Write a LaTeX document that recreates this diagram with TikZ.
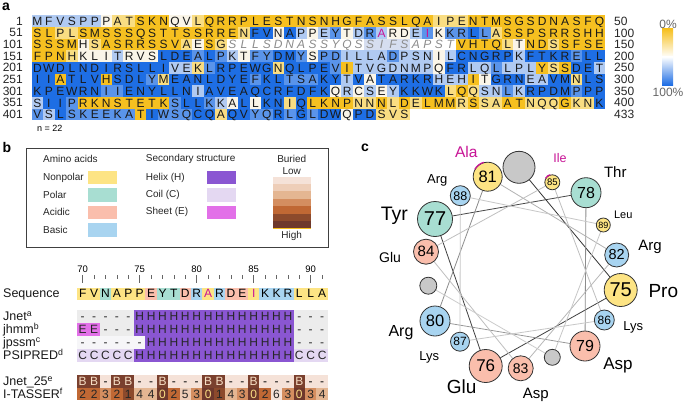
\documentclass[tikz,border=0pt]{standalone}
\usepackage{fontspec}
\setmainfont{Liberation Sans}
\usetikzlibrary{backgrounds}

% heat map levels (0 = yellow ... 5 = blue)
\definecolor{hm0}{RGB}{246,192,32}
\definecolor{hm1}{RGB}{249,221,130}
\definecolor{hm2}{RGB}{250,245,232}
\definecolor{hm3}{RGB}{176,202,242}
\definecolor{hm4}{RGB}{90,148,234}
\definecolor{hm5}{RGB}{30,110,228}
\definecolor{hm6}{RGB}{255,255,255}
\definecolor{hm7}{RGB}{214,222,240}
\colorlet{hm8}{hm3}
\colorlet{hm9}{hm4}
\definecolor{mag}{RGB}{200,20,150}
% amino acid classes
\definecolor{aanon}{RGB}{253,228,132}
\definecolor{aapol}{RGB}{168,222,210}
\definecolor{aaaci}{RGB}{250,190,172}
\definecolor{aabas}{RGB}{168,212,240}
% secondary structure
\definecolor{sshel}{RGB}{138,86,210}
\definecolor{sscoi}{RGB}{228,216,242}
\definecolor{ssshe}{RGB}{226,112,232}
\definecolor{ssbg}{RGB}{236,236,236}
\definecolor{sslt}{RGB}{246,246,248}
% burial
\definecolor{bur0}{RGB}{110,56,44}
\definecolor{bur1}{RGB}{140,74,44}
\definecolor{bur2}{RGB}{192,104,52}
\definecolor{bur3}{RGB}{212,142,96}
\definecolor{bur4}{RGB}{228,182,146}
\definecolor{bur5}{RGB}{238,206,184}
\definecolor{bur6}{RGB}{245,226,216}
\definecolor{burB}{RGB}{122,64,46}
\definecolor{burBt}{RGB}{246,222,196}
\definecolor{burt0}{RGB}{250,220,130}
\colorlet{burt1}{black!85}
\colorlet{burt2}{black!85}
\colorlet{burt3}{black!85}
\colorlet{burt4}{black!85}
\colorlet{burt5}{black!85}
\colorlet{burt6}{black!85}
\definecolor{whgray}{RGB}{200,200,200}

\tikzset{
  hmlet/.style={inner sep=0pt, font=\fontsize{12}{12}\selectfont, text=black!90,
    text height=8.6pt, text depth=0pt},
  numlab/.style={inner sep=0pt, font=\fontsize{12}{12}\selectfont, text=black!85},
  panel/.style={inner sep=0pt, font=\fontsize{14}{14}\selectfont\bfseries},
  legtxt/.style={inner sep=0pt, anchor=west, font=\fontsize{10}{10}\selectfont, text=black!85},
  swatch/.style={minimum width=29pt, minimum height=13.6pt, inner sep=0pt},
  seqcell/.style={minimum width=11.6pt, minimum height=12pt, inner sep=0pt,
    font=\fontsize{12}{12}\selectfont, text height=8.6pt, text depth=0pt},
  sscell/.style={minimum width=11.6pt, minimum height=13pt, inner sep=0pt,
    font=\fontsize{12}{12}\selectfont, text height=8.6pt, text depth=0pt, text=black!85},
  burcell/.style={minimum width=11.6pt, minimum height=12.5pt, inner sep=0pt,
    font=\fontsize{12}{12}\selectfont, text height=8.6pt, text depth=0pt},
  rowlab/.style={inner sep=0pt, anchor=west, font=\fontsize{12.5}{12.5}\selectfont,
    text height=8.8pt, text depth=0pt, text=black!90},
  wres/.style={circle, draw=black!80, line width=0.8pt, inner sep=0pt},
  wlab/.style={inner sep=0pt},
}

\newcommand\hmtxt[2]{\ifnum#2>7 \color{mag}\else\ifnum#2>5 \color{black!45}\itshape\fi\fi#1}
% one row of the conservation map
\newcommand\hmrow[2]{%
  \foreach \aa/\lv [count=\j] in {#2}{%
    \fill[fill=hm\lv] ({31.7+(\j-1)*11.47},{15.5+(#1-1)*11.63}) rectangle +(11.47,11.63);
    \node[hmlet] (s#1-\j) at ({31.7+(\j-0.5)*11.47},{21.3+(#1-1)*11.63}) {\hmtxt{\aa}{\lv}};
  }}
% one row of predictions
\newcommand\ssrow[3]{%
  \foreach \ch/\fc [count=\k from 70] in {#3}{%
    \node[sscell, fill=\fc] (#1\k) at ({82.7+(\k-70)*11.4},#2) {\ch};
  }}

\begin{document}
\begin{tikzpicture}[x=1pt,y=-1pt]
\useasboundingbox (0,0) rectangle (685,404);
\begin{scope}[on background layer]
\fill[white] (0,0) rectangle (685,404);
\end{scope}

% ---- a ----
\node[panel] (pa) at (6,7) {a};
\hmrow{1}{M/3,F/3,V/3,S/3,P/3,P/3,P/2,A/1,T/1,S/0,K/0,N/0,Q/2,V/2,L/1,Q/0,R/0,R/0,P/0,L/0,E/0,S/0,T/0,N/0,S/0,N/0,H/0,G/0,F/0,A/0,S/0,S/0,L/0,Q/0,A/0,I/1,P/1,E/1,N/0,T/0,M/0,S/0,G/0,S/0,D/0,N/0,A/0,S/0,F/0,Q/0}
\hmrow{2}{S/0,L/0,P/1,L/1,S/0,M/0,S/0,S/0,S/0,Q/0,S/0,T/0,T/0,S/0,S/0,R/0,R/0,E/0,N/1,F/5,V/5,N/2,A/5,P/3,P/2,E/3,Y/4,T/2,D/3,R/4,A/8,R/2,D/2,E/3,I/9,K/2,K/4,R/4,L/5,L/4,A/1,S/0,S/0,P/0,S/0,R/0,R/0,S/0,H/0,H/0}
\hmrow{3}{S/0,S/0,S/0,M/0,H/2,S/1,A/0,S/0,R/0,R/0,S/0,S/0,V/0,A/1,E/2,S/0,G/1,S/6,L/6,L/6,S/6,D/6,N/6,A/6,S/6,S/6,Y/6,Q/6,S/6,S/7,I/7,F/7,S/7,A/6,P/6,S/6,T/6,V/0,H/0,T/0,Q/0,L/1,T/2,N/0,D/0,S/1,S/0,F/0,S/0,E/0}
\hmrow{4}{F/0,P/0,N/0,H/1,K/2,L/2,I/2,T/3,R/2,V/2,S/2,L/5,D/5,E/5,A/4,L/5,P/4,K/3,T/2,F/4,Y/4,D/5,M/5,Y/4,S/2,P/4,D/4,I/3,L/3,L/3,A/3,D/4,P/3,S/3,N/3,I/2,L/3,C/5,N/5,G/5,R/5,P/5,K/3,F/5,T/5,K/5,R/5,E/4,L/5,L/5}
\hmrow{5}{D/5,W/5,D/5,L/5,N/5,D/5,I/5,R/5,S/5,L/5,L/5,I/5,V/3,E/3,K/1,L/4,R/5,P/5,E/5,W/5,G/5,N/1,Q/5,L/5,P/5,E/5,V/4,I/0,T/3,V/3,G/3,D/3,N/3,M/3,P/3,Q/2,F/5,R/5,L/3,Q/3,L/4,L/3,P/3,L/3,Y/0,S/1,S/0,D/5,E/5,T/3}
\hmrow{6}{I/5,I/5,A/0,T/5,L/5,V/5,H/0,S/5,D/5,L/5,Y/4,M/1,E/5,A/5,N/5,L/5,D/5,Y/5,E/5,F/4,K/5,L/5,T/4,S/4,A/4,K/5,Y/5,T/3,V/5,A/2,T/5,A/5,R/5,K/5,R/5,H/3,E/3,H/3,I/0,T/2,G/5,R/5,N/5,E/3,A/3,V/5,M/5,N/1,L/5,S/5}
\hmrow{7}{K/5,P/5,E/5,W/5,R/5,N/5,I/4,I/4,E/5,N/5,Y/5,L/5,L/5,N/5,I/3,A/5,V/5,E/5,A/5,Q/5,C/5,R/5,F/5,D/5,F/5,K/5,Q/2,R/3,C/2,S/3,E/2,Y/3,K/5,K/5,W/5,K/5,L/1,Q/0,Q/1,S/3,N/3,L/4,K/3,R/5,P/5,D/5,M/5,P/4,P/5,P/5}
\hmrow{8}{S/3,I/5,I/5,P/4,R/0,K/0,N/0,S/0,T/0,E/0,T/0,K/0,S/4,L/5,L/5,K/4,K/3,A/2,L/5,L/2,K/5,N/5,I/1,Q/5,L/0,K/0,N/0,P/0,N/1,N/1,N/0,L/1,D/0,E/1,L/0,M/0,M/0,R/1,S/0,S/1,A/1,A/0,T/0,N/1,Q/1,Q/1,G/0,K/1,N/1,K/5}
\hmrow{9}{V/4,S/3,L/5,S/4,K/4,E/4,E/4,K/4,A/4,T/0,I/5,W/4,S/4,Q/4,C/5,Q/5,A/1,Q/5,V/5,Y/4,Q/4,R/5,L/4,G/5,L/4,D/5,W/5,Q/2,P/5,D/5,S/1,V/1,S/1}
\foreach \r/\lo/\hi in {1/1/50,2/51/100,3/101/150,4/151/200,5/201/250,6/251/300,7/301/350,8/351/400,9/401/433}{
  \node[numlab, anchor=east] (lo\r) at (23,{21.3+(\r-1)*11.63}) {\lo};
  \node[numlab, anchor=west] (hi\r) at (614,{21.3+(\r-1)*11.63}) {\hi};
}
\node[inner sep=0pt, anchor=west, font=\fontsize{9}{9}\selectfont] (nseq) at (37,128.3) {n = 22};
% colour bar
\shade[top color=hm0, bottom color=white] (662,29) rectangle (673,57.2);
\shade[top color=white, bottom color=hm5] (662,56.8) rectangle (673,85);
\node[numlab, text=black!60] (pc0) at (668,24) {0\%};
\node[numlab, text=black!60] (pc100) at (668,92.5) {100\%};

% ---- b ----
\node[panel] (pb) at (7,147) {b};
\draw[black!75, line width=0.9pt] (26.7,148.3) rectangle (328.3,247.3);
\node[legtxt] (tAmino) at (43,159) {Amino acids};
\foreach \nm/\txt/\yy in {non/Nonpolar/177.5, pol/Polar/195.2, aci/Acidic/212.3, bas/Basic/229.7}{
  \node[legtxt] (t\nm) at (43,\yy) {\txt};
  \node[swatch, fill=aa\nm] (sw\nm) at (102.8,\yy) {};
}
\node[legtxt] (tSec) at (145.7,159) {Secondary structure};
\foreach \nm/\txt/\yy in {hel/Helix (H)/177.5, coi/Coil (C)/195.2, she/Sheet (E)/212.3}{
  \node[legtxt] (t\nm) at (145.7,\yy) {\txt};
  \node[swatch, fill=ss\nm] (sw\nm) at (221.3,\yy) {};
}
\node[legtxt, anchor=center] (tBur) at (291.7,159) {Buried};
\node[legtxt, anchor=center] (tLow) at (291.7,171) {Low};
\node[legtxt, anchor=center] (tHigh) at (291.7,236) {High};
\foreach \v [count=\k from 0] in {6,5,4,3,2,1,0}
  \fill[fill=bur\v] (273.3,{176.7+\k*7.37}) rectangle +(37.4,7.37);
\draw[hm0, line width=1pt] (273.3,228.3) -- (310.7,228.3);

% ruler
\foreach \i in {70,...,91}
  \draw[black!60, line width=0.6pt] ({82.7+(\i-70)*11.4},275) -- +(0,3.5);
\foreach \i in {70,75,...,90}{
  \draw[black!60, line width=0.8pt] ({82.7+(\i-70)*11.4},276) -- +(0,7);
  \node[inner sep=0pt, font=\fontsize{9.5}{9.5}\selectfont] (rl\i) at ({82.7+(\i-70)*11.4},269) {\i};
}
% sequence
\node[rowlab] (lSeq) at (3,293.5) {Sequence};
\foreach \aa/\cl/\tc [count=\k from 70] in {F/non/black,V/non/black,N/pol/black,A/non/black,P/non/black,P/non/black,E/aci/black,Y/pol/black,T/pol/black,D/aci/black,R/bas/black,A/non/mag,R/bas/black,D/aci/black,E/aci/black,I/non/mag,K/bas/black,K/bas/black,R/bas/black,L/non/black,L/non/black,A/non/black}
  \node[seqcell, fill=aa\cl, text=\tc] (q\k) at ({82.7+(\k-70)*11.4},293.5) {\aa};

% predictions
\node[rowlab] (lJnet) at (3,316.5) {Jnet\textsuperscript{a}};
\node[rowlab] (lJhmm) at (3,329.5) {jhmm\textsuperscript{b}};
\node[rowlab] (lJpssm) at (3,342.5) {jpssm\textsuperscript{c}};
\node[rowlab] (lPsi) at (3,355.5) {PSIPRED\textsuperscript{d}};
\ssrow{jn}{316.5}{-/ssbg,-/ssbg,-/ssbg,-/ssbg,-/ssbg,H/sshel,H/sshel,H/sshel,H/sshel,H/sshel,H/sshel,H/sshel,H/sshel,H/sshel,H/sshel,H/sshel,H/sshel,H/sshel,H/sshel,-/ssbg,-/ssbg,-/ssbg}
\ssrow{jh}{329.5}{E/ssshe,E/ssshe,-/ssbg,-/ssbg,-/ssbg,H/sshel,H/sshel,H/sshel,H/sshel,H/sshel,H/sshel,H/sshel,H/sshel,H/sshel,H/sshel,H/sshel,H/sshel,H/sshel,H/sshel,-/ssbg,-/ssbg,-/ssbg}
\ssrow{jp}{342.5}{-/sslt,-/sslt,-/sslt,-/sslt,-/sslt,-/sslt,H/sshel,H/sshel,H/sshel,H/sshel,H/sshel,H/sshel,H/sshel,H/sshel,H/sshel,H/sshel,H/sshel,H/sshel,H/sshel,-/ssbg,-/ssbg,-/ssbg}
\ssrow{ps}{355.5}{C/sscoi,C/sscoi,C/sscoi,C/sscoi,C/sscoi,H/sshel,H/sshel,H/sshel,H/sshel,H/sshel,H/sshel,H/sshel,H/sshel,H/sshel,H/sshel,H/sshel,H/sshel,H/sshel,H/sshel,C/sscoi,C/sscoi,C/sscoi}

% burial
\node[rowlab] (lJ25) at (3,381.5) {Jnet\_25\textsuperscript{e}};
\node[rowlab] (lIT) at (3,394) {I-TASSER\textsuperscript{f}};
\foreach \ch/\fc/\tc [count=\k from 70] in {B/burB/burBt,B/burB/burBt,-/bur6/black,B/burB/burBt,B/burB/burBt,-/bur6/black,-/bur6/black,B/burB/burBt,-/bur6/black,-/bur6/black,-/bur6/black,B/burB/burBt,B/burB/burBt,-/bur6/black,-/bur6/black,B/burB/burBt,-/bur6/black,-/bur6/black,-/bur6/black,B/burB/burBt,-/bur6/black,-/bur6/black}
  \node[burcell, fill=\fc, text=\tc] (jb\k) at ({82.7+(\k-70)*11.4},381.5) {\ch};
\foreach \v [count=\k from 70] in {2,2,3,2,1,4,4,0,2,5,3,0,1,4,3,0,2,6,3,0,3,4}
  \node[burcell, fill=bur\v, text=burt\v] (it\k) at ({82.7+(\k-70)*11.4},394) {\v};

% ---- c ----
\node[panel] (pc) at (365,148) {c};
\foreach \i/\xx/\yy/\rr/\fs/\fc in {75/620.7/290/16.5/20/aanon, 76/485.7/366/16.5/17/aaaci,
    77/435/219/17.5/20/aapol, 78/586/192.7/15/16/aapol, 79/585/346/15/16/aaaci,
    80/435/321/15/16.5/aabas, 81/487.7/176.7/14.5/16.5/aanon, 82/616.7/255/12/14.5/aabas,
    83/520.7/368.3/12.5/14/aaaci, 84/426/251.7/12.5/15/aaaci, 85/552.3/182.3/7.5/9.5/aanon,
    86/604.3/320/10/12/aabas, 87/460/341.7/9.5/12/aabas, 88/460.3/195.7/10/12.5/aabas,
    89/603.3/225/7/9/aanon}
  \node[wres, fill=\fc, minimum size=2*\rr, font=\fontsize{\fs}{\fs}\selectfont] (w\i) at (\xx,\yy) {\i};
\foreach \i/\xx/\yy/\rr in {74/519/167.3/16, 90/552.3/357.3/8, 91/428.3/285.7/8.5}
  \node[wres, fill=whgray, minimum size=2*\rr] (w\i) at (\xx,\yy) {};
\draw[mag, line width=1.2pt] (w81.105) arc[start angle=-105, end angle=-150, radius=14.9];
\draw[mag, line width=1.2pt] (w85.105) arc[start angle=-105, end angle=-150, radius=7.9];
\begin{scope}[on background layer]
\foreach \a/\b/\c in {74/75/80, 75/76/75, 76/77/75, 77/78/72, 78/79/45, 79/80/40, 80/81/45,
    81/82/30, 82/83/28, 83/84/25, 84/85/25, 85/86/25, 86/87/22, 87/88/22, 88/89/22,
    89/90/22, 90/91/20}
  \draw[black!\c, line width=0.8pt] (w\a) -- (w\b);
\end{scope}
\foreach \i/\txt/\xx/\yy/\fs/\tc in {75/Pro/663.3/291/19/black, 76/Glu/461.7/386.7/19/black,
    77/Tyr/394.3/216/19.5/black, 78/Thr/615.3/172.3/15/black, 79/Asp/618/365/17/black,
    80/Arg/401/332.7/16/black, 81/Ala/466.3/151.7/15.5/mag, 82/Arg/650/246.7/15/black,
    83/Asp/535.7/395/15/black, 84/Glu/390/257.7/14/black, 85/Ile/560/158.3/12.5/mag,
    86/Lys/633.3/327.7/13/black, 87/Lys/429.3/357.7/13/black, 88/Arg/437.3/180/13/black,
    89/Leu/623.3/215/11/black}
  \node[wlab, text=\tc, font=\fontsize{\fs}{\fs}\selectfont] (n\i) at (\xx,\yy) {\txt};
\end{tikzpicture}
\end{document}
